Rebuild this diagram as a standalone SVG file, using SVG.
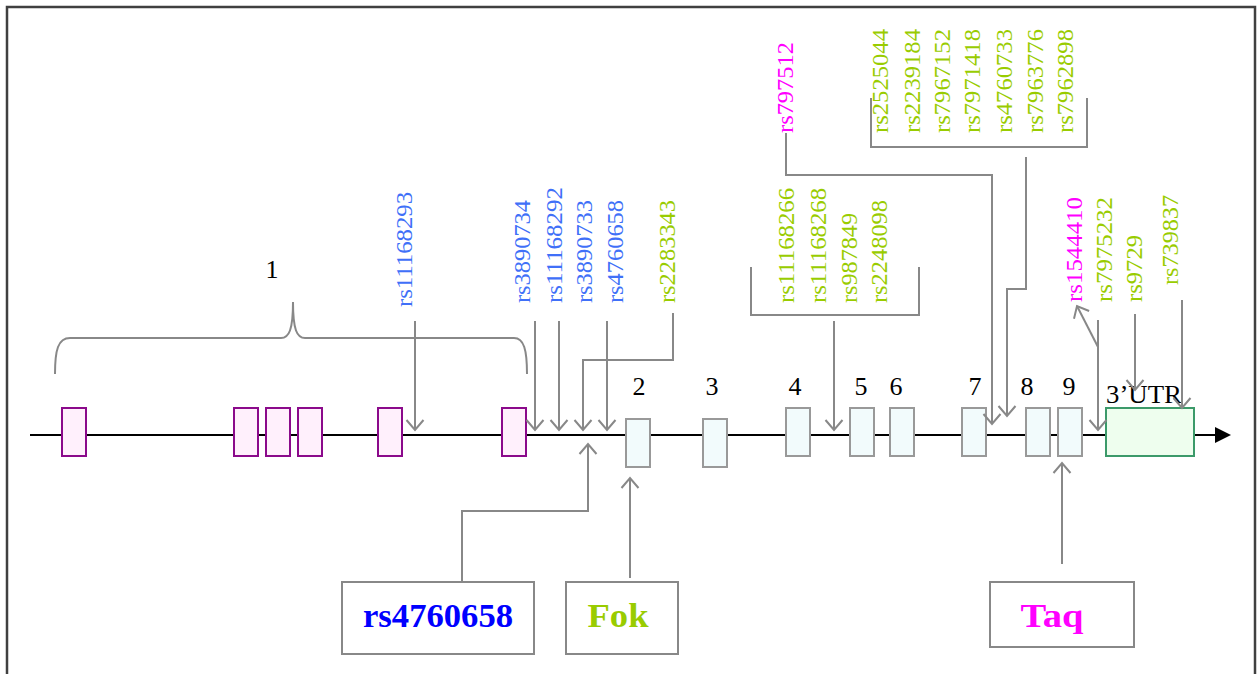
<svg xmlns="http://www.w3.org/2000/svg" width="1260" height="674" viewBox="0 0 1260 674">
<defs>
<style>
.frame{fill:#fff;stroke:#404040;stroke-width:2.5}
.bb{stroke:#000;stroke-width:2;fill:none}
.e1{fill:#FFF0FC;stroke:#8B0A8B;stroke-width:2}
.ex{fill:#F2FBFC;stroke:#999;stroke-width:2}
.utr{fill:#EEFEEE;stroke:#3C9A6A;stroke-width:2}
.con{fill:none;stroke:#888;stroke-width:2}
.arr{fill:none;stroke:#888;stroke-width:2;marker-end:url(#ah)}
.num{font-family:"Liberation Serif",serif;font-size:26px;fill:#000;text-anchor:middle}
.v{font-family:"Liberation Serif",serif;font-size:23px}
.b{fill:#4070F8}
.g{fill:#99CC00}
.m{fill:#FF00FF}
.box{fill:#fff;stroke:#888;stroke-width:2}
.bt{font-family:"Liberation Serif",serif;font-size:34px;font-weight:bold;text-anchor:middle}
</style>
<marker id="ah" markerUnits="userSpaceOnUse" markerWidth="24" markerHeight="24" refX="12" refY="12" orient="auto" viewBox="0 0 24 24">
<path d="M2 3.5 L12 12 L2 20.5" fill="none" stroke="#888" stroke-width="2"/>
</marker>
</defs>
<rect class="frame" x="7" y="7" width="1248" height="700"/>

<g id="backbone">
<line class="bb" x1="30" y1="435" x2="1216" y2="435"/>
<polygon points="1215,427 1231,435 1215,443" fill="#000"/>
</g>

<g id="exon1">
<rect class="e1" x="62" y="408" width="24" height="48"/>
<rect class="e1" x="234" y="408" width="24" height="48"/>
<rect class="e1" x="266" y="408" width="24" height="48"/>
<rect class="e1" x="298" y="408" width="24" height="48"/>
<rect class="e1" x="378" y="408" width="24" height="48"/>
<rect class="e1" x="502" y="408" width="24" height="48"/>
<path class="con" d="M55 374 C55 350 58 338 70 338 L281 338 C289 338 293 330 293 302 C293 330 297 338 305 338 L514 338 C524 338 527 350 527 374"/>
<text class="num" x="272" y="278">1</text>
</g>
<g id="exon2"><rect class="ex" x="626" y="419" width="24" height="48"/><text class="num" x="639" y="395">2</text></g>
<g id="exon3"><rect class="ex" x="703" y="419" width="24" height="48"/><text class="num" x="712" y="395">3</text></g>
<g id="exon4"><rect class="ex" x="786" y="408" width="24" height="48"/><text class="num" x="795" y="395">4</text></g>
<g id="exon5"><rect class="ex" x="850" y="408" width="24" height="48"/><text class="num" x="861" y="395">5</text></g>
<g id="exon6"><rect class="ex" x="890" y="408" width="24" height="48"/><text class="num" x="896" y="395">6</text></g>
<g id="exon7"><rect class="ex" x="962" y="408" width="24" height="48"/><text class="num" x="975" y="395">7</text></g>
<g id="exon8"><rect class="ex" x="1026" y="408" width="24" height="48"/><text class="num" x="1027" y="395">8</text></g>
<g id="exon9"><rect class="ex" x="1058" y="408" width="24" height="48"/><text class="num" x="1069" y="395">9</text></g>
<g id="utr3"><rect class="utr" x="1106" y="408" width="88" height="48"/><text class="num" x="1144" y="403" textLength="76" lengthAdjust="spacingAndGlyphs">3’UTR</text></g>

<g id="snp-labels">
<text class="v b" transform="translate(412,307) rotate(-90)" textLength="115" lengthAdjust="spacingAndGlyphs">rs11168293</text>
<text class="v b" transform="translate(530,303) rotate(-90)" textLength="103" lengthAdjust="spacingAndGlyphs">rs3890734</text>
<text class="v b" transform="translate(562,303) rotate(-90)" textLength="116" lengthAdjust="spacingAndGlyphs">rs11168292</text>
<text class="v b" transform="translate(592,303) rotate(-90)" textLength="103" lengthAdjust="spacingAndGlyphs">rs3890733</text>
<text class="v b" transform="translate(623,303) rotate(-90)" textLength="103" lengthAdjust="spacingAndGlyphs">rs4760658</text>
<text class="v g" transform="translate(675,303) rotate(-90)" textLength="103" lengthAdjust="spacingAndGlyphs">rs2283343</text>
<text class="v g" transform="translate(794,303) rotate(-90)" textLength="115" lengthAdjust="spacingAndGlyphs">rs11168266</text>
<text class="v g" transform="translate(826,303) rotate(-90)" textLength="115" lengthAdjust="spacingAndGlyphs">rs11168268</text>
<text class="v g" transform="translate(857,303) rotate(-90)" textLength="90" lengthAdjust="spacingAndGlyphs">rs987849</text>
<text class="v g" transform="translate(887,303) rotate(-90)" textLength="103" lengthAdjust="spacingAndGlyphs">rs2248098</text>
<text class="v m" transform="translate(793,133) rotate(-90)" textLength="91" lengthAdjust="spacingAndGlyphs">rs797512</text>
<text class="v g" transform="translate(888,133) rotate(-90)" textLength="104" lengthAdjust="spacingAndGlyphs">rs2525044</text>
<text class="v g" transform="translate(920,133) rotate(-90)" textLength="104" lengthAdjust="spacingAndGlyphs">rs2239184</text>
<text class="v g" transform="translate(950,133) rotate(-90)" textLength="104" lengthAdjust="spacingAndGlyphs">rs7967152</text>
<text class="v g" transform="translate(980,133) rotate(-90)" textLength="104" lengthAdjust="spacingAndGlyphs">rs7971418</text>
<text class="v g" transform="translate(1012,133) rotate(-90)" textLength="104" lengthAdjust="spacingAndGlyphs">rs4760733</text>
<text class="v g" transform="translate(1043,133) rotate(-90)" textLength="104" lengthAdjust="spacingAndGlyphs">rs7963776</text>
<text class="v g" transform="translate(1073,133) rotate(-90)" textLength="104" lengthAdjust="spacingAndGlyphs">rs7962898</text>
<text class="v m" transform="translate(1082,302) rotate(-90)" textLength="105" lengthAdjust="spacingAndGlyphs">rs1544410</text>
<text class="v g" transform="translate(1112,302) rotate(-90)" textLength="105" lengthAdjust="spacingAndGlyphs">rs7975232</text>
<text class="v g" transform="translate(1142,302) rotate(-90)" textLength="67" lengthAdjust="spacingAndGlyphs">rs9729</text>
<text class="v g" transform="translate(1178,285) rotate(-90)" textLength="90" lengthAdjust="spacingAndGlyphs">rs739837</text>
</g>

<g id="brackets">
<path class="con" d="M751 267 L751 315 L919 315 L919 267"/>
<path class="con" d="M871 98 L871 147 L1087 147 L1087 98"/>
</g>

<g id="box-rs4760658"><rect class="box" x="342" y="582" width="192" height="72"/><text class="bt" x="438" y="627" fill="#0000FF" textLength="150" lengthAdjust="spacingAndGlyphs">rs4760658</text></g>
<g id="box-fok"><rect class="box" x="566" y="582" width="112" height="72"/><text class="bt" x="618" y="627" fill="#99CC00" textLength="61" lengthAdjust="spacingAndGlyphs">Fok</text></g>
<g id="box-taq"><rect class="box" x="990" y="582" width="144" height="65"/><text class="bt" x="1052" y="627" fill="#FF00FF" textLength="63" lengthAdjust="spacingAndGlyphs">Taq</text></g>

<g id="connectors">
<path class="arr" d="M415 321 L415 430"/>
<path class="arr" d="M535 321 L535 430"/>
<path class="arr" d="M559 321 L559 430"/>
<path class="arr" d="M673 313 L673 360 L583 360 L583 430"/>
<path class="arr" d="M607 321 L607 430"/>
<path class="arr" d="M834 321 L834 430"/>
<path class="arr" d="M786 133 L786 175 L992 175 L992 424"/>
<path class="arr" d="M1026 157 L1026 289 L1007 289 L1007 416"/>
<path class="arr" d="M1098 320 L1098 430"/>
<path class="arr" d="M1098 347 L1077 306"/>
<path class="arr" d="M1135 314 L1135 390"/>
<path class="arr" d="M1182 300 L1182 408"/>
<path class="arr" d="M462 582 L462 511 L588 511 L588 444"/>
<path class="arr" d="M630 578 L630 478"/>
<path class="arr" d="M1062 564 L1062 463"/>
</g>
</svg>
